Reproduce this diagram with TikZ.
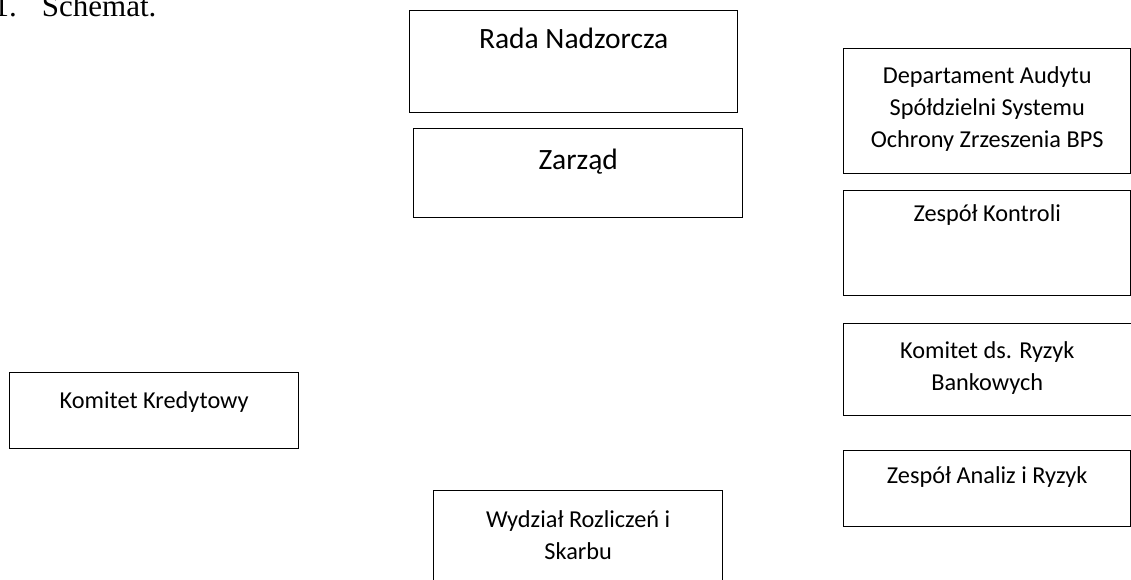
\documentclass[tikz,border=0pt]{standalone}
\usepackage{fontspec}
\usepackage{tikz}

\newfontfamily\unitfont{Carlito}
\newfontfamily\headfont{Liberation Serif}
\newcommand{\smallunit}{\unitfont\fontsize{24.3}{32}\selectfont}
\newcommand{\bigunit}{\unitfont\fontsize{29.5}{39}\selectfont}
% box content: width, height, top gap, text
\newcommand{\unittext}[4]{\parbox[c][#2][t]{#1}{\centering\vspace*{#3}\strut#4\par}}

\tikzset{
  unit/.style={draw, line width=1.4pt, inner sep=0pt, anchor=north west, font=\smallunit},
  bigbox/.style={unit, font=\bigunit},
}

\begin{document}
\begin{tikzpicture}[x=1pt,y=1pt,yscale=-1,xscale=1]
\useasboundingbox (0,0) rectangle (1131,579);
\clip (0,0) rectangle (1131,579);

% Heading
\node (heading) [anchor=base west, inner sep=0pt, font=\headfont\fontsize{31}{36}\selectfont] at (-6.5,16) {1.\hspace{25pt}Schemat.};

% Rada Nadzorcza
\node (rada) [bigbox] at (409,10) {\unittext{328pt}{102pt}{10.7pt}{Rada Nadzorcza}};
% Zarzad
\node (zarzad) [bigbox] at (413,128) {\unittext{329pt}{89pt}{13.7pt}{Zarząd}};

% Departament Audytu
\node (audyt) [unit] at (843,48) {\unittext{287pt}{125pt}{12pt}{Departament Audytu\\Spółdzielni Systemu\\Ochrony Zrzeszenia BPS}};
% Zespol Kontroli
\node (kontrola) [unit] at (843,190) {\unittext{287pt}{105pt}{8.5pt}{Zespół Kontroli}};
% Komitet ds. Ryzyk
\node (ryzyka) [unit] at (843,323) {\unittext{287pt}{92pt}{12.5pt}{Komitet ds. Ryzyk\\Bankowych}\rule{13pt}{0pt}};
% Zespol Analiz
\node (analizy) [unit] at (843,450) {\unittext{287pt}{76pt}{10.6pt}{Zespół Analiz i Ryzyk}};

% Komitet Kredytowy
\node (kredyty) [unit] at (9,372) {\unittext{289pt}{76pt}{13pt}{Komitet Kredytowy}};
% Wydzial Rozliczen
\node (skarb) [unit] at (433,490) {\unittext{289pt}{100pt}{14pt}{Wydział Rozliczeń i\\Skarbu}};

\end{tikzpicture}
\end{document}
